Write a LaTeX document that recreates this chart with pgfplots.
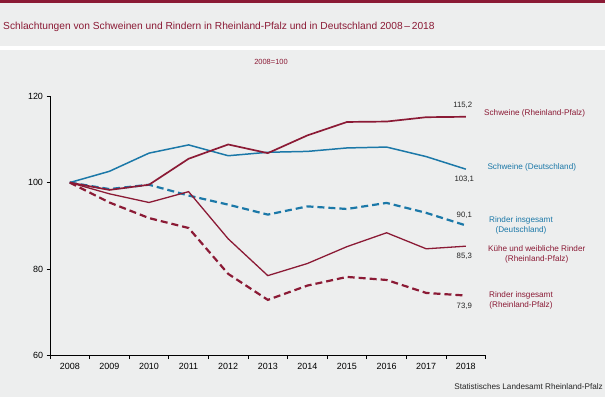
\documentclass[border=0pt]{standalone}
\usepackage{pgfplots}
\pgfplotsset{compat=1.18}
\usepackage{fontspec}
\setmainfont{Liberation Sans}
\definecolor{dred}{HTML}{8B1A35}
\definecolor{dblue}{HTML}{1B78A8}
\definecolor{bg}{HTML}{EDEEEE}
\begin{document}
\begin{tikzpicture}
% background
\fill[bg] (0,0) rectangle (605bp,397bp);
\fill[white] (0,347bp) rectangle (605bp,351bp);
\fill[dred] (0,394bp) rectangle (605bp,397bp);
\path[use as bounding box] (0,0) rectangle (605bp,397bp);
\node[anchor=west,text=dred,font=\fontsize{10.25}{12}\selectfont,inner sep=0pt] at (3bp,397bp-27bp) {Schlachtungen von Schweinen und Rindern in Rheinland-Pfalz und in Deutschland 2008\,--\,2018};
\node[text=dred,font=\fontsize{7.5}{9}\selectfont,inner sep=0pt] at (271bp,397bp-62bp) {2008=100};
\node[anchor=east,text=black!85,font=\fontsize{8.2}{9}\selectfont,inner sep=0pt] at (603bp,397bp-387bp) {Statistisches Landesamt Rheinland-Pfalz};
\begin{axis}[
  at={(50bp,41.3bp)}, anchor=south west,
  scale only axis, width=435.6bp, height=259.7bp,
  xmin=2007.5, xmax=2018.5, ymin=60, ymax=120,
  axis x line*=bottom, axis y line*=left,
  axis line style={black, line width=0.8pt, -},
  xtick={2008,...,2018},
  major x tick style={draw=none},
  minor xtick={2007.5,2008.5,...,2018.5},
  minor tick length=3.5bp,
  ytick={60,80,100,120},
  major tick length=3.5bp,
  tick align=outside,
  tick style={black, line width=0.8pt},
  x tick label style={/pgf/number format/1000 sep={}},
  xticklabel style={font=\fontsize{9}{10}\selectfont, yshift=-1bp},
  yticklabel style={font=\fontsize{9}{10}\selectfont},
  /pgf/number format/assume math mode=true,
  clip=false,
]
% Schweine (Deutschland)
\addplot[dblue, line width=1.5pt] coordinates {
(2008,100) (2009,102.6) (2010,106.8) (2011,108.7) (2012,106.2) (2013,107.0) (2014,107.2) (2015,108.0) (2016,108.2) (2017,106.0) (2018,103.1)};
% Rinder insgesamt (Deutschland)
\addplot[dblue, line width=2.2pt, dash pattern=on 7bp off 4bp] coordinates {
(2008,100) (2009,98.5) (2010,99.5) (2011,97.0) (2012,94.9) (2013,92.6) (2014,94.5) (2015,93.9) (2016,95.3) (2017,93.0) (2018,90.1)};
% Kuehe und weibliche Rinder (RLP)
\addplot[dred, line width=1.3pt] coordinates {
(2008,100) (2009,97.4) (2010,95.4) (2011,97.9) (2012,87.0) (2013,78.5) (2014,81.3) (2015,85.2) (2016,88.4) (2017,84.7) (2018,85.3)};
% Rinder insgesamt (RLP)
\addplot[dred, line width=2.2pt, dash pattern=on 7bp off 4bp] coordinates {
(2008,100) (2009,95.4) (2010,91.8) (2011,89.5) (2012,78.9) (2013,72.9) (2014,76.2) (2015,78.2) (2016,77.5) (2017,74.5) (2018,73.9)};
% Schweine (RLP)
\addplot[dred, line width=1.7pt] coordinates {
(2008,100) (2009,98.3) (2010,99.5) (2011,105.5) (2012,108.8) (2013,106.8) (2014,110.9) (2015,114.0) (2016,114.1) (2017,115.1) (2018,115.2)};
\end{axis}
% value labels
\begin{scope}[font=\fontsize{7.8}{9.5}\selectfont, inner sep=0pt]
\node[text=black!85] at (462.7bp,397bp-105.7bp) {115,2};
\node[text=black!85] at (464.3bp,397bp-179.3bp) {103,1};
\node[text=black!85] at (464.3bp,397bp-215bp) {90,1};
\node[text=black!85] at (464.3bp,397bp-256.7bp) {85,3};
\node[text=black!85] at (464.3bp,397bp-306.7bp) {73,9};
\end{scope}
\begin{scope}[font=\fontsize{8.2}{10}\selectfont, inner sep=0pt]
\node[anchor=west,text=dred] at (484bp,397bp-113.3bp) {Schweine (Rheinland-Pfalz)};
\node[anchor=west,text=dblue] at (487.3bp,397bp-167.3bp) {Schweine (Deutschland)};
\node[text=dblue,align=center] at (521bp,397bp-225bp) {Rinder insgesamt\\(Deutschland)};
\node[text=dred,align=center] at (536.7bp,397bp-254.8bp) {Kühe und weibliche Rinder\\(Rheinland-Pfalz)};
\node[text=dred,align=center] at (521bp,397bp-300bp) {Rinder insgesamt\\(Rheinland-Pfalz)};
\end{scope}
\end{tikzpicture}
\end{document}
